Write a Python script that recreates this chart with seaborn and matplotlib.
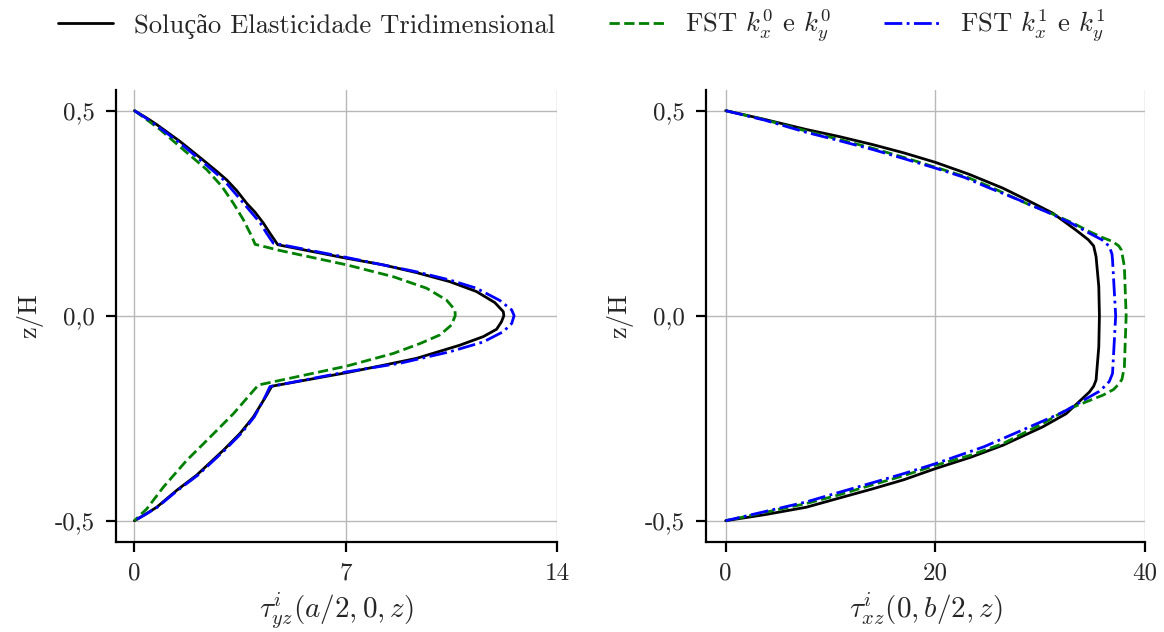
import matplotlib
matplotlib.use("Agg")
import matplotlib.pyplot as plt
import seaborn as sns
import pandas as pd

# tau_yz(a/2, 0, z) profiles
z_yz_ref = [0.5, 0.482, 0.466, 0.425, 0.399, 0.372, 0.352, 0.331, 0.305, 0.274, 0.252, 0.226,
            0.201, 0.173, 0.140, 0.124, 0.105, 0.083, 0.059, 0.032, 0.010, 0.0, -0.015,
            -0.033, -0.051, -0.072, -0.104, -0.121, -0.139, -0.172, -0.194, -0.247, -0.287,
            -0.328, -0.389, -0.426, -0.467, -0.485, -0.5]
t_yz_ref = [0.0, 0.41, 0.74, 1.51, 1.95, 2.40, 2.73, 3.06, 3.39, 3.72, 4.00, 4.27,
            4.49, 4.75, 7.03, 8.24, 9.35, 10.45, 11.33, 11.94, 12.22, 12.24, 12.16,
            12.00, 11.56, 10.78, 9.35, 8.24, 7.03, 4.55, 4.38, 3.94, 3.50,
            2.95, 2.06, 1.40, 0.74, 0.35, 0.0]

z_yz_k0 = [0.5, 0.478, 0.454, 0.405, 0.356, 0.315, 0.274, 0.234, 0.193, 0.174, 0.159, 0.124,
           0.095, 0.067, 0.038, 0.014, 0.0, -0.023, -0.047, -0.068, -0.092, -0.123, -0.169,
           -0.183, -0.239, -0.296, -0.353, -0.418, -0.471, -0.5]
t_yz_k0 = [0.0, 0.41, 0.85, 1.62, 2.40, 2.90, 3.28, 3.61, 3.89, 4.00, 4.82, 7.03,
           8.58, 9.68, 10.34, 10.62, 10.63, 10.50, 10.12, 9.46, 8.58, 7.03, 4.11,
           3.94, 3.28, 2.51, 1.73, 0.96, 0.41, 0.0]

z_yz_k1 = [0.5, 0.482, 0.466, 0.425, 0.399, 0.372, 0.331, 0.274, 0.226, 0.201, 0.177, 0.142,
           0.107, 0.087, 0.067, 0.037, 0.014, 0.0, -0.019, -0.039, -0.064, -0.088, -0.116,
           -0.137, -0.173, -0.198, -0.247, -0.287, -0.328, -0.389, -0.426, -0.467, -0.485, -0.5]
t_yz_k1 = [0.0, 0.38, 0.69, 1.44, 1.87, 2.31, 2.96, 3.62, 4.17, 4.38, 4.60, 7.03,
           9.35, 10.45, 11.33, 12.11, 12.50, 12.58, 12.50, 12.22, 11.56, 10.45, 8.80,
           7.03, 4.49, 4.33, 3.97, 3.54, 2.99, 2.10, 1.43, 0.76, 0.36, 0.0]

# tau_xz(0, b/2, z) profiles
z_xz_ref = [0.5, 0.480, 0.454, 0.437, 0.417, 0.397, 0.374, 0.345, 0.311, 0.283, 0.250,
            0.209, 0.185, 0.170, 0.144, 0.071, 0.0, -0.076, -0.157, -0.172, -0.186, -0.210,
            -0.239, -0.271, -0.316, -0.345, -0.373, -0.400, -0.422, -0.445, -0.467, -0.485, -0.5]
t_xz_ref = [0.0, 3.5, 7.71, 10.8, 14.06, 17.0, 20.0, 23.2, 26.44, 28.67, 31.2,
            33.4, 34.6, 35.1, 35.33, 35.59, 35.65, 35.59, 35.33, 35.1, 34.7, 33.7,
            32.48, 30.25, 26.44, 23.4, 20.0, 17.0, 14.06, 10.8, 7.71, 3.8, 0.0]

z_xz_k0 = [0.5, 0.478, 0.450, 0.430, 0.408, 0.386, 0.362, 0.338, 0.315, 0.274, 0.250,
           0.225, 0.205, 0.190, 0.181, 0.170, 0.160, 0.120, 0.0, -0.125, -0.155, -0.165,
           -0.180, -0.194, -0.210, -0.230, -0.263, -0.312, -0.340, -0.365, -0.390, -0.412,
           -0.437, -0.458, -0.480, -0.5]
t_xz_k0 = [0.0, 3.7, 7.71, 10.8, 14.06, 17.0, 20.0, 23.0, 25.17, 28.67, 31.0,
           33.2, 34.7, 36.0, 36.9, 37.5, 37.75, 38.03, 38.2, 38.03, 37.8, 37.56,
           37.0, 35.97, 34.4, 32.48, 30.25, 26.44, 23.4, 20.0, 17.0, 14.06,
           10.8, 7.71, 3.7, 0.0]

z_xz_k1 = [0.5, 0.477, 0.447, 0.427, 0.405, 0.383, 0.360, 0.337, 0.313, 0.282, 0.250,
           0.225, 0.201, 0.185, 0.169, 0.150, 0.136, 0.0, -0.141, -0.160, -0.169, -0.185,
           -0.198, -0.235, -0.279, -0.320, -0.361, -0.385, -0.407, -0.431, -0.454, -0.478, -0.5]
t_xz_k1 = [0.0, 3.7, 7.71, 10.8, 14.06, 17.0, 20.0, 22.8, 25.0, 28.0, 30.9,
           33.0, 34.7, 35.9, 36.6, 36.85, 36.9, 37.2, 36.9, 36.6, 36.3, 35.6,
           34.7, 32.2, 28.3, 24.6, 20.0, 17.0, 14.06, 10.8, 7.71, 3.7, 0.0]

series_names = ["Solução Elasticidade Tridimensional",
                r"FST $k_x^0$ e $k_y^0$",
                r"FST $k_x^1$ e $k_y^1$"]
series_colors = ["black", "green", "blue"]
series_styles = ["-", "--", "-."]

z_ticks = [-0.5, 0.0, 0.5]
z_ticklabels = ["-0,5", "0,0", "0,5"]
yz_ticks = [0, 7, 14]
xz_ticks = [0, 20, 40]

sns.set_theme(style="ticks")
plt.rcParams["font.family"] = ["cmr10", "Liberation Serif"]
plt.rcParams["mathtext.fontset"] = "cm"
plt.rcParams["axes.unicode_minus"] = False
plt.rcParams["axes.formatter.use_mathtext"] = True

fs = 18
fig = plt.figure(figsize=(11.64, 6.32), dpi=100)
ax1 = fig.add_axes([0.0994, 0.143, 0.3791, 0.715])
ax2 = fig.add_axes([0.6063, 0.143, 0.3774, 0.715])


def draw(ax, data, xlim, xticks, xlabel):
    for (t, z), name, c, ls in zip(data, series_names, series_colors, series_styles):
        df = pd.DataFrame({"t": t, "z": z})
        sns.lineplot(data=df, x="t", y="z", sort=False, estimator=None, ax=ax,
                     color=c, linestyle=ls, linewidth=2.0, label=name, legend=False)
    ax.set_xlim(*xlim)
    ax.set_ylim(-0.551, 0.551)
    ax.set_xticks(xticks)
    ax.set_xticklabels([str(v) for v in xticks], fontsize=fs)
    ax.set_yticks(z_ticks)
    ax.set_yticklabels(z_ticklabels, fontsize=fs)
    ax.set_xlabel(xlabel, fontsize=21, labelpad=4)
    ax.set_ylabel("z/H", fontsize=fs + 1, labelpad=8)
    ax.grid(True, color="#b8b8b8", linewidth=1.0)
    ax.set_axisbelow(True)
    for s in ("left", "bottom"):
        ax.spines[s].set_color("black")
        ax.spines[s].set_linewidth(1.6)
    ax.tick_params(axis="both", length=7, width=1.6, color="black", pad=8)
    sns.despine(ax=ax)


draw(ax1, [(t_yz_ref, z_yz_ref), (t_yz_k0, z_yz_k0), (t_yz_k1, z_yz_k1)],
     (-0.62, 14), yz_ticks, r"$\tau^i_{yz}(a/2, 0, z)$")
draw(ax2, [(t_xz_ref, z_xz_ref), (t_xz_k0, z_xz_k0), (t_xz_k1, z_xz_k1)],
     (-1.9, 40), xz_ticks, r"$\tau^i_{xz}(0, b/2, z)$")

handles, labels = ax1.get_legend_handles_labels()
fig.legend(handles, labels, loc="upper center", bbox_to_anchor=(0.5, 1.025), ncol=3,
           frameon=False, fontsize=19.2, handlelength=2.05, handletextpad=0.8,
           columnspacing=2.0)

fig.savefig("out.png", dpi=100)
